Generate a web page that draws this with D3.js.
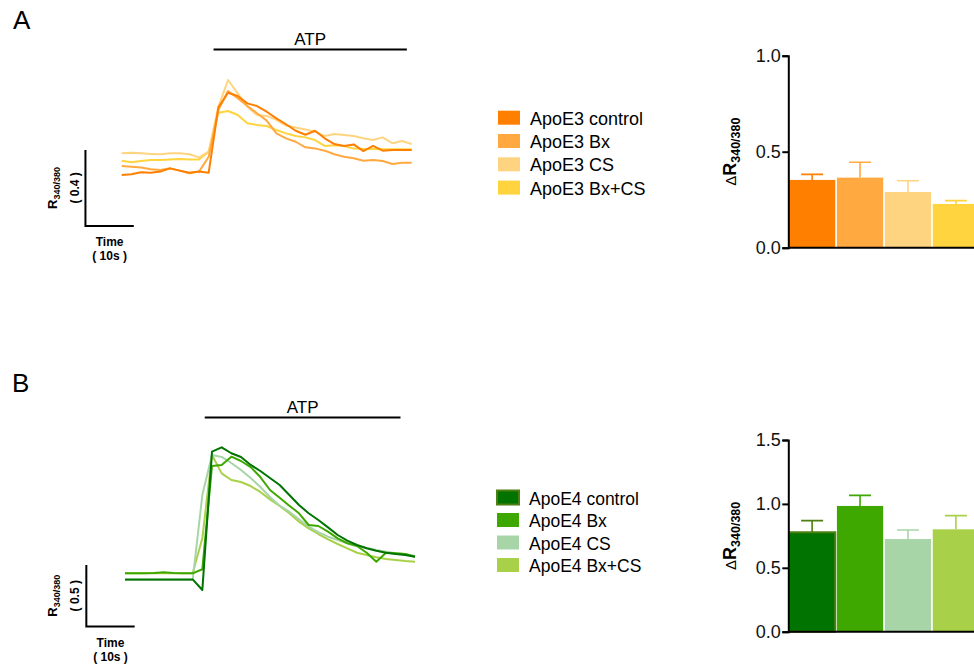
<!DOCTYPE html>
<html>
<head>
<meta charset="utf-8">
<script src="https://cdn.jsdelivr.net/npm/d3@7"></script>
<style>
  body { margin: 0; background: #fff; }
  svg { display: block; font-family: "Liberation Sans", Arial, sans-serif; }
</style>
</head>
<body>
<svg width="974" height="664"></svg>
<script>
// Time points (s) for the calcium traces
const time = [0, 2, 4, 6, 8, 10, 12, 14, 16, 18, 20, 22, 24, 26, 28, 30, 32, 34, 36, 38, 40, 42, 44, 46, 48, 50, 52, 54, 56, 58, 60];

// Panel A traces (R340/380)
const apoE3Control = [1.000, 1.004, 1.014, 1.012, 1.018, 1.035, 1.023, 1.012, 1.019, 1.012, 1.356, 1.433, 1.416, 1.377, 1.363, 1.333, 1.298, 1.267, 1.233, 1.212, 1.233, 1.193, 1.163, 1.153, 1.161, 1.126, 1.153, 1.128, 1.132, 1.132, 1.132];
const apoE3Bx = [1.047, 1.044, 1.040, 1.030, 1.026, 1.035, 1.023, 1.009, 1.018, 1.096, 1.342, 1.442, 1.404, 1.363, 1.325, 1.286, 1.219, 1.193, 1.175, 1.146, 1.140, 1.128, 1.109, 1.096, 1.088, 1.075, 1.079, 1.074, 1.058, 1.065, 1.065];
const apoE3CS = [1.114, 1.117, 1.114, 1.111, 1.109, 1.114, 1.114, 1.109, 1.093, 1.123, 1.359, 1.500, 1.430, 1.359, 1.316, 1.311, 1.290, 1.260, 1.250, 1.240, 1.228, 1.205, 1.216, 1.211, 1.205, 1.193, 1.184, 1.198, 1.167, 1.179, 1.163];
const apoE3BxCS = [1.075, 1.067, 1.074, 1.079, 1.079, 1.082, 1.084, 1.082, 1.082, 1.123, 1.328, 1.337, 1.316, 1.272, 1.263, 1.258, 1.237, 1.219, 1.205, 1.198, 1.184, 1.153, 1.156, 1.153, 1.139, 1.137, 1.137, 1.135, 1.135, 1.135, 1.135];

// Panel B traces (R340/380)
const apoE4Control = [1.005, 1.005, 1.005, 1.005, 1.005, 1.005, 1.005, 1.005, 0.919, 2.041, 2.076, 2.028, 1.998, 1.933, 1.884, 1.827, 1.770, 1.689, 1.608, 1.541, 1.487, 1.427, 1.365, 1.319, 1.284, 1.257, 1.238, 1.221, 1.211, 1.203, 1.189];
const apoE4Bx = [1.054, 1.054, 1.054, 1.056, 1.062, 1.056, 1.054, 1.054, 1.087, 1.925, 1.933, 2.000, 1.965, 1.916, 1.835, 1.730, 1.667, 1.603, 1.541, 1.446, 1.438, 1.392, 1.338, 1.298, 1.276, 1.221, 1.148, 1.221, 1.217, 1.211, 1.189];
const apoE4CS = [1.000, 1.000, 1.000, 1.000, 1.000, 1.000, 1.000, 1.000, 1.689, 2.014, 1.998, 1.949, 1.892, 1.827, 1.754, 1.673, 1.603, 1.554, 1.492, 1.432, 1.389, 1.351, 1.324, 1.298, 1.278, 1.260, 1.243, 1.230, 1.217, 1.208, 1.197];
const apoE4BxCS = [1.054, 1.054, 1.054, 1.054, 1.054, 1.054, 1.054, 1.054, 1.338, 2.014, 1.865, 1.811, 1.795, 1.762, 1.714, 1.654, 1.600, 1.541, 1.473, 1.419, 1.373, 1.330, 1.292, 1.257, 1.221, 1.203, 1.184, 1.170, 1.162, 1.154, 1.148];

// ATP application windows (s)
const atpA = [19, 59];
const atpB = [16.5, 57];

// Bar charts: mean ΔR340/380 and error
const groupsA = ["ApoE3 control", "ApoE3 Bx", "ApoE3 CS", "ApoE3 Bx+CS"];
const meanA = [0.353, 0.365, 0.290, 0.228];
const errA = [0.029, 0.080, 0.059, 0.017];
const groupsB = ["ApoE4 control", "ApoE4 Bx", "ApoE4 CS", "ApoE4 Bx+CS"];
const meanB = [0.778, 0.984, 0.725, 0.801];
const errB = [0.091, 0.083, 0.071, 0.107];

const ticksA = [0, 0.5, 1.0];
const ticksB = [0, 0.5, 1.0, 1.5];

const colorsA = ["#ff7f00", "#ffa940", "#ffd480", "#ffd43f"];
const colorsB = ["#007300", "#3fa800", "#a8d5a8", "#a8d048"];

const svg = d3.select("svg");

// ---- panel letters
svg.append("text").attr("x", 13).attr("y", 29).attr("font-size", 26).text("A");
svg.append("text").attr("x", 12).attr("y", 392).attr("font-size", 26).text("B");

// ---- traces
const drawTraces = (series, colors, x, y, atp, atpY, scale) => {
    const g = svg.append("g");
    const line = d3.line().x((d, i) => x(time[i])).y(d => y(d));
    // lighter ones first so the darker sit on top
    series.map((s, i) => ({ s, i })).reverse().forEach(({ s, i }) => {
        g.append("path")
            .datum(s)
            .attr("fill", "none")
            .attr("stroke", colors[i])
            .attr("stroke-width", 2)
            .attr("stroke-linejoin", "round")
            .attr("d", line);
    });

    // ATP bar
    g.append("line")
        .attr("x1", x(atp[0])).attr("x2", x(atp[1]))
        .attr("y1", atpY).attr("y2", atpY)
        .attr("stroke", "#000").attr("stroke-width", 2);
    g.append("text")
        .attr("x", (x(atp[0]) + x(atp[1])) / 2)
        .attr("y", atpY - 5)
        .attr("text-anchor", "middle")
        .attr("font-size", 17)
        .text("ATP");

    // scale bars
    const sx = x(scale.t), sx2 = x(scale.t + 10);
    const sy0 = y(scale.v), sy1 = y(scale.v + scale.dv);
    g.append("path")
        .attr("d", `M${sx},${sy1}V${sy0}H${sx2}`)
        .attr("fill", "none").attr("stroke", "#000").attr("stroke-width", 2);

    const cy = (sy0 + sy1) / 2;
    const rl = g.append("text")
        .attr("transform", `translate(57,${cy}) rotate(-90)`)
        .attr("text-anchor", "middle")
        .attr("font-weight", "bold");
    rl.append("tspan").attr("font-size", 13).text("R");
    rl.append("tspan").attr("font-size", 9).attr("dy", 3).text("340/380");
    g.append("text")
        .attr("transform", `translate(79,${cy}) rotate(-90)`)
        .attr("text-anchor", "middle")
        .attr("font-weight", "bold")
        .attr("font-size", 12)
        .text(`( ${scale.dv} )`);

    const tx = (sx + sx2) / 2;
    g.append("text").attr("x", tx).attr("y", sy0 + 20)
        .attr("text-anchor", "middle").attr("font-weight", "bold").attr("font-size", 12)
        .text("Time");
    g.append("text").attr("x", tx).attr("y", sy0 + 34)
        .attr("text-anchor", "middle").attr("font-weight", "bold").attr("font-size", 12)
        .text("( 10s )");
};

const xA = d3.scaleLinear().domain([0, 60]).range([121.7, 411.7]);
const yA = d3.scaleLinear().domain([1, 1.5]).range([175, 80]);
drawTraces([apoE3Control, apoE3Bx, apoE3CS, apoE3BxCS], colorsA, xA, yA, atpA, 49.5,
    { t: -7.5, v: 0.732, dv: 0.4 });

const xB = d3.scaleLinear().domain([0, 60]).range([125, 415]);
const yB = d3.scaleLinear().domain([1, 2]).range([580, 456.7]);
drawTraces([apoE4Control, apoE4Bx, apoE4CS, apoE4BxCS], colorsB, xB, yB, atpB, 417.5,
    { t: -8, v: 0.622, dv: 0.5 });

// ---- legends
const drawLegend = (groups, colors, x0, y0, step, size, border) => {
    const g = svg.append("g");
    groups.forEach((name, i) => {
        const yy = y0 + i * step;
        g.append("rect")
            .attr("x", x0).attr("y", yy).attr("width", 22).attr("height", 14)
            .attr("fill", colors[i])
            .attr("stroke", i === 0 && border ? border : "none")
            .attr("stroke-width", 2);
        g.append("text")
            .attr("x", x0 + 32).attr("y", yy + 14)
            .attr("font-size", size)
            .attr("fill", "#000")
            .text(name);
    });
};
drawLegend(groupsA, colorsA, 498, 110.7, 23.3, 18, null);
drawLegend(groupsB, colorsB, 497, 490.5, 22.5, 17.5, "#4d7f12");

// ---- bar charts
const drawBars = (groups, means, errs, colors, y, ticks, border) => {
    const g = svg.append("g");
    const x = d3.scaleBand().domain(groups).range([789, 979]).paddingInner(0.035);
    const y0 = y(0);

    g.selectAll(".bar")
        .data(groups)
        .join("rect")
        .attr("x", d => x(d))
        .attr("y", (d, i) => y(means[i]))
        .attr("width", x.bandwidth())
        .attr("height", (d, i) => y0 - y(means[i]))
        .attr("fill", (d, i) => colors[i])
        .attr("stroke", (d, i) => i === 0 && border ? border : "none")
        .attr("stroke-width", 2);

    // error bars (upper only)
    groups.forEach((d, i) => {
        const cx = x(d) + x.bandwidth() / 2;
        const top = y(means[i] + errs[i]);
        g.append("path")
            .attr("d", `M${cx},${y(means[i])}V${top}M${cx - 11},${top}H${cx + 11}`)
            .attr("fill", "none")
            .attr("stroke", i === 0 && border ? border : colors[i])
            .attr("stroke-width", 1.6);
    });

    // baseline
    g.append("line")
        .attr("x1", 788).attr("x2", 974).attr("y1", y0).attr("y2", y0)
        .attr("stroke", "#000").attr("stroke-width", 2);

    const ax = g.append("g")
        .attr("transform", "translate(788.3,0)")
        .call(d3.axisLeft(y).tickValues(ticks).tickFormat(d3.format(".1f")).tickSize(6).tickPadding(1.5));
    ax.select(".domain").attr("stroke-width", 2);
    ax.selectAll(".tick line").attr("stroke-width", 2);
    ax.selectAll(".tick text")
        .attr("font-size", 18)
        .attr("font-family", "Liberation Sans, Arial, sans-serif")
        .attr("fill", "#111");

    const cy = (y(ticks[0]) + y(ticks[ticks.length - 1])) / 2;
    const t = g.append("text")
        .attr("transform", `translate(736,${cy}) rotate(-90)`)
        .attr("text-anchor", "middle");
    t.append("tspan").attr("font-size", 15).text("Δ");
    t.append("tspan").attr("font-size", 18).attr("font-weight", "bold").text("R");
    t.append("tspan").attr("font-size", 12.5).attr("font-weight", "bold").attr("dy", 4).text("340/380");
};

const yBarA = d3.scaleLinear().domain([0, 1]).range([247.7, 55.7]);
drawBars(groupsA, meanA, errA, colorsA, yBarA, ticksA, null);

const yBarB = d3.scaleLinear().domain([0, 1.5]).range([631.7, 440]);
drawBars(groupsB, meanB, errB, colorsB, yBarB, ticksB, "#4d7f12");
</script>
</body>
</html>
